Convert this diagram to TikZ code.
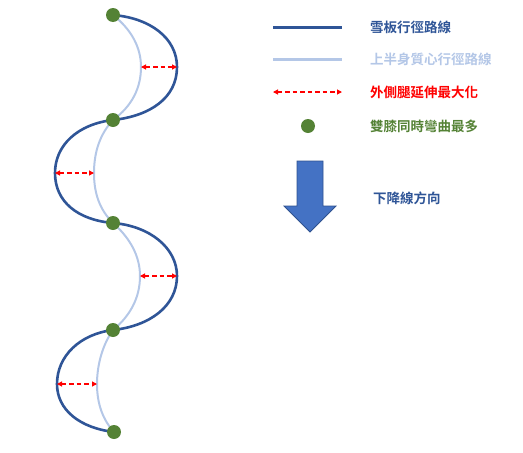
\documentclass[tikz,border=0pt]{standalone}
\usepackage{fontspec}
\newfontfamily\cjk{Noto Sans CJK TC}[BoldFont={Noto Sans CJK TC Bold}]
\usetikzlibrary{arrows.meta}
\definecolor{darkpath}{HTML}{2F5597}
\definecolor{lightpath}{HTML}{B4C7E7}
\definecolor{kneegreen}{HTML}{548235}
\definecolor{arrowfill}{HTML}{4472C4}
\definecolor{arrowedge}{HTML}{2F528F}
\definecolor{dirtext}{HTML}{2F5597}
\tikzset{
  board/.style={draw=darkpath, line width=2.6pt},
  body/.style={draw=lightpath, line width=2pt},
  ext/.style={draw=red, line width=1.1pt, dash pattern=on 4.5pt off 3pt, {Triangle[length=5pt,width=5pt]}-{Triangle[length=5pt,width=5pt]}},
  knee/.style={circle, fill=kneegreen, minimum size=14pt, inner sep=0pt},
  legtext/.style={anchor=west, font=\cjk\bfseries\fontsize{13.5}{16}\selectfont, inner sep=0pt}
}
\begin{document}
\begin{tikzpicture}[x=1pt,y=-1pt]
\useasboundingbox (0,0) rectangle (523,453);
% knee positions
\coordinate (p1) at (113,15);
\coordinate (p2) at (113,120);
\coordinate (p3) at (113,223);
\coordinate (p4) at (113,330);
\coordinate (p5) at (114,432);
% peaks
\coordinate (d1) at (177,67);
\coordinate (d2) at (55,173);
\coordinate (d3) at (177,276);
\coordinate (d4) at (57,384);
\coordinate (l1) at (141,67);
\coordinate (l2) at (94,173);
\coordinate (l3) at (140,276);
\coordinate (l4) at (97,384);
% light body paths
\draw[body] (p1) .. controls (132,30) and (141,48) .. (l1) .. controls (141,88) and (132,106) .. (p2);
\draw[body] (p2) .. controls (100,134) and (94,152) .. (l2) .. controls (94,194) and (100,210) .. (p3);
\draw[body] (p3) .. controls (130,238) and (140,256) .. (l3) .. controls (140,298) and (130,316) .. (p4);
\draw[body] (p4) .. controls (103,344) and (97,364) .. (l4) .. controls (97,404) and (103,420) .. (p5);
% dark board paths
\draw[board] (p1) .. controls (150,18) and (177,38) .. (d1) .. controls (177,98) and (150,116) .. (p2);
\draw[board] (p2) .. controls (78,124) and (55,145) .. (d2) .. controls (55,202) and (78,220) .. (p3);
\draw[board] (p3) .. controls (150,226) and (177,248) .. (d3) .. controls (177,306) and (150,326) .. (p4);
\draw[board] (p4) .. controls (80,334) and (57,356) .. (d4) .. controls (57,410) and (80,428) .. (p5);
% extension arrows
\draw[ext] (l1) -- (d1);
\draw[ext] (d2) -- (l2);
\draw[ext] (l3) -- (d3);
\draw[ext] (d4) -- (l4);
% knees
\node[knee] (k1) at (p1) {};
\node[knee] (k2) at (p2) {};
\node[knee] (k3) at (p3) {};
\node[knee] (k4) at (p4) {};
\node[knee] (k5) at (p5) {};
% legend
\coordinate (a1) at (273,27); \coordinate (b1) at (342,27);
\coordinate (a2) at (273,59); \coordinate (b2) at (342,59);
\coordinate (a3) at (273,92); \coordinate (b3) at (342,92);
\draw[draw=darkpath, line width=3pt] (a1) -- (b1);
\draw[draw=lightpath, line width=3pt] (a2) -- (b2);
\draw[ext] (a3) -- (b3);
\node[knee] (lk) at (308,126) {};
\node[legtext, text=darkpath] (t1) at (370,27) {雪板行徑路線};
\node[legtext, text=lightpath] (t2) at (370,59) {上半身質心行徑路線};
\node[legtext, text=red] (t3) at (370,92) {外側腿延伸最大化};
\node[legtext, text=kneegreen] (t4) at (370,126) {雙膝同時彎曲最多};
% fall line arrow
\draw[fill=arrowfill, draw=arrowedge, line width=0.8pt]
  (297,161) -- (323,161) -- (323,206) -- (336,206) -- (310,232) -- (284,206) -- (297,206) -- cycle;
\node[legtext, text=dirtext] (t5) at (373,198) {下降線方向};
\end{tikzpicture}
\end{document}
